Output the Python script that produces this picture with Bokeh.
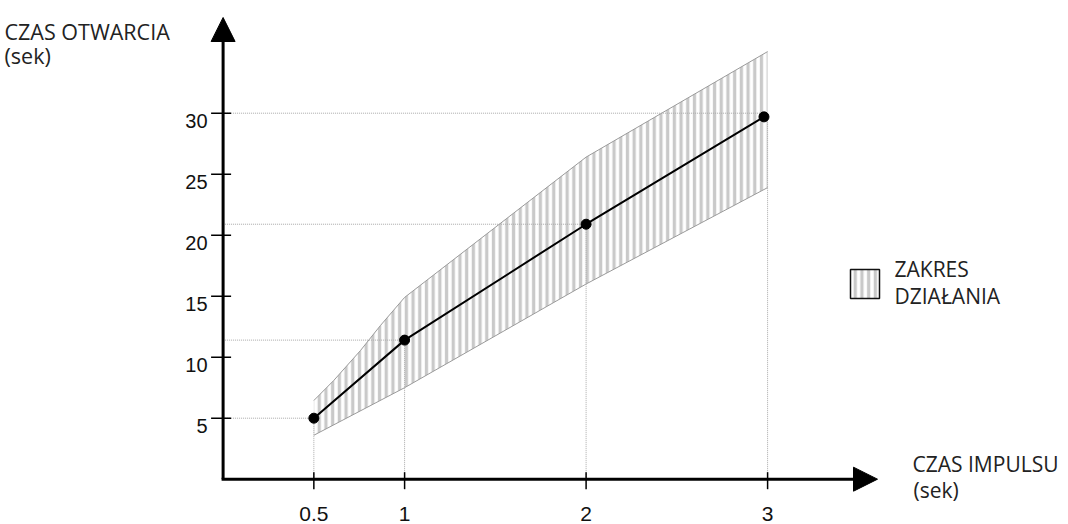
from bokeh.plotting import figure
from bokeh.models import Range1d, Arrow, NormalHead, Label
from bokeh.core.properties import value
from bokeh.embed import file_html
from bokeh.resources import INLINE

# ---- data ----
x_ticks = [0.5, 1, 2, 3]
x_tick_labels = ["0.5", "1", "2", "3"]
y_ticks = [5, 10, 15, 20, 25, 30]
y_tick_labels = ["5", "10", "15", "20", "25", "30"]

pulse_time = [0.5, 1, 2, 2.98]          # CZAS IMPULSU (sek)
open_time = [5.0, 11.4, 20.9, 29.7]     # CZAS OTWARCIA (sek)

band_upper_x = [0.5, 0.61, 0.757, 0.867, 1.0, 2.0, 3.0]
band_upper_y = [6.45, 8.1, 10.55, 12.6, 14.9, 26.4, 35.05]
band_lower_x = [0.5, 1.0, 2.0, 3.0]
band_lower_y = [3.6, 7.5, 16.0, 23.9]

guide_h_y = [5, 11.4, 20.9, 30]
guide_h_x = [0.5, 1, 2, 2.98]
guide_v_x = [0.5, 1, 2, 3]
guide_v_y = [5, 11.4, 20.9, 29.7]

# ---- layout (screen px) ----
W, H = 1068, 524
X0, Y0 = 222.6, 478.7      # screen position of the origin
XS, YS = 181.5, 12.2       # px per data unit

def dx(sx):
    return (sx - X0) / XS

def dy(sy):
    return (Y0 - sy) / YS

p = figure(width=W, height=H, output_backend="svg", toolbar_location=None,
           x_range=Range1d(dx(0), dx(W)), y_range=Range1d(dy(H), dy(0)),
           x_axis_location=None, y_axis_location=None,
           min_border=0, min_border_left=0, min_border_right=0,
           min_border_top=0, min_border_bottom=0)
p.outline_line_color = None
p.grid.visible = False
p.background_fill_color = "white"
p.border_fill_color = "white"

# hatched operating band
band_xs = band_upper_x + band_lower_x[::-1]
band_ys = band_upper_y + band_lower_y[::-1]
p.patch(band_xs, band_ys, fill_color=None, line_color=None,
        hatch_pattern="vertical_line", hatch_color="#c9c9c9",
        hatch_weight=3.3, hatch_scale=6.7)
p.line(band_upper_x, band_upper_y, line_color="#9a9a9a", line_width=1)
p.line(band_lower_x, band_lower_y, line_color="#9a9a9a", line_width=1)

# dotted guides
p.segment(x0=[0] * len(guide_h_y), y0=guide_h_y, x1=guide_h_x, y1=guide_h_y,
          line_color="#a8a8a8", line_width=1, line_dash="1 1")
p.segment(x0=guide_v_x, y0=[0] * len(guide_v_x), x1=guide_v_x, y1=guide_v_y,
          line_color="#a8a8a8", line_width=1, line_dash="1 1")

# main line + points
p.line(pulse_time, open_time, line_color="black", line_width=2)
p.scatter(pulse_time, open_time, size=10, color="black")

# axes with arrow heads
p.add_layout(Arrow(end=NormalHead(size=24, fill_color="black", line_color="black"),
                   x_start=dx(X0 - 1.5), y_start=0, x_end=dx(877), y_end=0,
                   line_width=3, line_color="black"))
p.add_layout(Arrow(end=NormalHead(size=24, fill_color="black", line_color="black"),
                   x_start=0, y_start=0, x_end=0, y_end=dy(17),
                   line_width=3, line_color="black"))

# ticks
p.segment(x0=x_ticks, y0=[-10 / YS] * len(x_ticks), x1=x_ticks, y1=[7 / YS] * len(x_ticks),
          line_color="black", line_width=1.5)
p.segment(x0=[-12 / XS] * len(y_ticks), y0=y_ticks, x1=[8 / XS] * len(y_ticks), y1=y_ticks,
          line_color="black", line_width=1.5)

# tick labels
p.text(x=x_ticks, y=[0] * len(x_ticks), text=x_tick_labels, text_align="center",
       text_baseline="alphabetic", y_offset=34.6, text_font=value("Liberation Sans"),
       text_font_size="21px", text_color="#111111")
p.text(x=[0] * len(y_ticks), y=y_ticks, text=y_tick_labels, text_align="right",
       text_baseline="alphabetic", x_offset=-15.5, y_offset=7.3,
       text_font=value("Liberation Sans"), text_font_size="20px", text_color="#111111")

# legend swatch
p.quad(left=[dx(850)], right=[dx(879)], top=[dy(269)], bottom=[dy(298)],
       fill_color=None, line_color="#111111", line_width=1.5,
       hatch_pattern="vertical_line", hatch_color="#c9c9c9",
       hatch_weight=3.3, hatch_scale=6.7)

def add_text(txt, sx, sy, size="21px"):
    p.add_layout(Label(x=dx(sx), y=dy(sy), text=txt, text_font="Open Sans",
                       text_font_size=size, text_color="#222222",
                       text_baseline="alphabetic", text_align="left"))

add_text("CZAS OTWARCIA", 4, 31, "21.5px")
add_text("(sek)", 4, 55, "21.5px")
add_text("ZAKRES", 894, 268)
add_text("DZIAŁANIA", 894, 295)
add_text("CZAS IMPULSU", 912, 463)
add_text("(sek)", 913, 489)

open("out.html", "w").write(file_html(p, INLINE))
